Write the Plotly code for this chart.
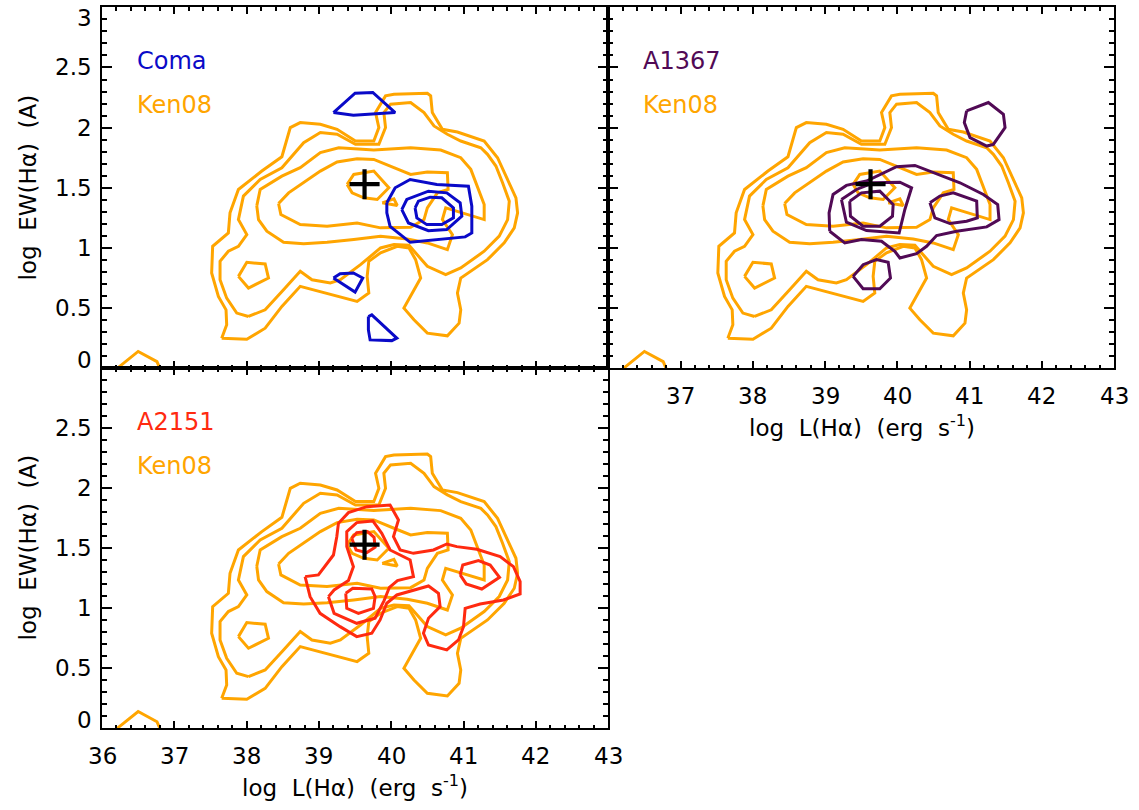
import plotly.graph_objects as go

# ---------------- data (log L(Halpha), log EW(Halpha)) ----------------
# Ken08 reference contours (identical in every panel)
ken_l1_x = [37.655, 38.002, 38.256, 38.487, 38.741, 39.25, 39.527, 39.689, 39.666, 39.689, 39.851, 40.082,
            40.244, 40.336, 40.406, 40.174, 40.313, 40.498, 40.775, 40.937, 40.96, 40.914, 40.96, 41.33,
            41.561, 41.7, 41.746, 41.723, 41.608, 41.469, 41.284, 40.914, 40.706, 40.567, 40.544, 40.498,
            40.036, 39.92, 39.782, 39.828, 39.758, 39.504, 39.25, 39.019, 38.741, 38.603, 38.487, 38.21,
            37.886, 37.77, 37.747, 37.53, 37.516, 37.609, 37.715, 37.724]
ken_l1_y = [0.25, 0.242, 0.333, 0.514, 0.681, 0.597, 0.556, 0.625, 0.764, 0.889, 0.959, 1.014,
            1.0, 0.903, 0.75, 0.5, 0.403, 0.292, 0.27, 0.375, 0.486, 0.625, 0.75, 0.903,
            1.042, 1.167, 1.292, 1.417, 1.569, 1.75, 1.889, 1.964, 1.986, 2.125, 2.264, 2.286,
            2.278, 2.264, 2.125, 2.0, 1.889, 1.889, 1.986, 2.028, 2.042, 2.0, 1.758, 1.639,
            1.486, 1.292, 1.125, 1.014, 0.792, 0.597, 0.486, 0.361]

ken_l2_x = [38.025, 38.256, 38.51, 38.741, 38.903, 39.157, 39.296, 39.574, 39.851, 40.036, 40.244, 40.359,
            40.498, 40.752, 40.96, 41.284, 41.492, 41.608, 41.631, 41.538, 41.446, 41.33, 41.238, 40.96,
            40.775, 40.59, 40.452, 40.267, 39.99, 39.897, 39.92, 39.828, 39.504, 39.25, 39.019, 38.788,
            38.487, 38.187, 37.955, 37.886, 38.002, 37.886, 37.747, 37.632, 37.632, 37.724, 37.863]
ken_l2_y = [0.431, 0.486, 0.653, 0.806, 0.736, 0.709, 0.736, 0.861, 1.0, 1.028, 1.022, 0.945,
            0.848, 0.778, 0.834, 0.973, 1.098, 1.236, 1.389, 1.542, 1.681, 1.778, 1.833, 1.889,
            1.945, 2.014, 2.125, 2.209, 2.195, 2.125, 2.0, 1.861, 1.861, 1.945, 1.959, 1.875,
            1.667, 1.569, 1.431, 1.236, 1.111, 1.014, 0.973, 0.889, 0.736, 0.583, 0.459]

ken_l3_x = [38.14, 38.187, 38.487, 38.741, 39.019, 39.273, 39.758, 40.267, 40.683, 40.96, 41.099, 41.19,
            41.284, 41.284, 40.96, 40.752, 40.706, 40.845, 40.775, 40.498, 40.22, 39.851, 39.481, 39.112,
            38.788, 38.51, 38.279, 38.164]
ken_l3_y = [1.35, 1.486, 1.597, 1.667, 1.792, 1.833, 1.814, 1.833, 1.814, 1.75, 1.653, 1.514,
            1.361, 1.236, 1.297, 1.333, 1.236, 1.111, 0.986, 1.042, 1.075, 1.098, 1.07, 1.047,
            1.036, 1.047, 1.139, 1.236]

ken_isl_x = [37.886, 38.002, 38.256, 38.302, 38.025]
ken_isl_y = [0.764, 0.881, 0.867, 0.75, 0.667]

ken_l4_x = [38.441, 38.473, 38.741, 39.112, 39.527, 39.851, 40.267, 40.452, 40.498, 40.637, 40.785, 40.775,
            40.498, 40.267, 40.036, 39.758, 39.527, 39.25, 39.019, 38.788, 38.58]
ken_l4_y = [1.369, 1.278, 1.194, 1.181, 1.208, 1.167, 1.172, 1.236, 1.333, 1.458, 1.486, 1.625,
            1.631, 1.611, 1.667, 1.736, 1.742, 1.714, 1.639, 1.542, 1.458]

ken_l5_x = [39.389, 39.481, 39.758, 39.966, 39.805, 39.62, 39.458]
ken_l5_y = [1.528, 1.611, 1.639, 1.5, 1.403, 1.417, 1.458]

ken_tri_x = [39.874, 40.036, 40.082]
ken_tri_y = [1.375, 1.408, 1.353]

ken_edge_x = [36.21, 36.5, 36.76, 36.8]
ken_edge_y = [0.0, 0.14, 0.055, 0.0]

# Coma contours
coma_a_x = [39.2, 39.499, 39.744, 40.053, 39.476]
coma_a_y = [2.125, 2.286, 2.292, 2.125, 2.103]
coma_b_x = [39.938, 40.053, 40.26, 40.629, 41.066, 41.113, 41.113, 41.021, 40.26, 39.983, 39.938]
coma_b_y = [1.375, 1.5, 1.569, 1.528, 1.513, 1.347, 1.125, 1.092, 1.047, 1.18, 1.292]
coma_c_x = [40.145, 40.214, 40.513, 40.767, 40.952, 40.975, 40.767, 40.513, 40.237]
coma_c_y = [1.319, 1.403, 1.472, 1.458, 1.375, 1.264, 1.153, 1.144, 1.208]
coma_d_x = [40.329, 40.375, 40.537, 40.698, 40.859, 40.859, 40.698, 40.491, 40.353]
coma_d_y = [1.333, 1.389, 1.422, 1.417, 1.333, 1.25, 1.194, 1.194, 1.25]
coma_e_x = [39.2, 39.292, 39.476, 39.605, 39.499]
coma_e_y = [0.75, 0.785, 0.792, 0.75, 0.633]
coma_f_x = [39.683, 39.73, 40.076, 40.007, 39.707, 39.683]
coma_f_y = [0.43, 0.444, 0.25, 0.23, 0.236, 0.319]

# A1367 contours
a1367_a_x = [40.96, 41.261, 41.469, 41.492, 41.33, 41.238, 41.007, 40.928]
a1367_a_y = [2.139, 2.209, 2.111, 2.0, 1.861, 1.847, 1.917, 2.042]
a1367_b_x = [39.065, 39.056, 39.111, 39.296, 39.574, 39.828, 39.99, 40.244, 40.498, 40.868, 41.192, 41.39,
             41.409, 41.238, 40.822, 40.544, 40.406, 40.267, 40.036, 39.966, 39.782, 39.504, 39.273]
a1367_b_y = [1.139, 1.292, 1.445, 1.52, 1.556, 1.625, 1.675, 1.686, 1.625, 1.542, 1.445, 1.361,
             1.236, 1.175, 1.139, 1.103, 1.014, 0.953, 0.917, 0.972, 1.056, 1.07, 1.042]
a1367_c_x = [39.227, 39.435, 39.666, 40.036, 40.198, 40.105, 40.026, 39.574, 39.296]
a1367_c_y = [1.403, 1.486, 1.542, 1.547, 1.5, 1.32, 1.125, 1.145, 1.214]
a1367_d_x = [39.342, 39.504, 39.758, 39.943, 39.934, 39.758, 39.527, 39.352]
a1367_d_y = [1.389, 1.458, 1.472, 1.361, 1.264, 1.181, 1.181, 1.264]
a1367_e_x = [40.452, 40.59, 40.775, 41.099, 41.108, 40.96, 40.729, 40.521]
a1367_e_y = [1.375, 1.431, 1.458, 1.389, 1.25, 1.222, 1.203, 1.25]
a1367_f_x = [39.389, 39.527, 39.712, 39.874, 39.906, 39.758, 39.527]
a1367_f_y = [0.764, 0.861, 0.903, 0.881, 0.75, 0.661, 0.661]

# A2151 contours
a2151_a_x = [38.808, 38.877, 39.015, 39.292, 39.522, 39.73, 39.845, 39.937, 40.076, 40.306, 40.514, 40.652,
             40.675, 40.514, 40.444, 40.514, 40.767, 40.929, 40.998, 41.021, 41.228, 41.551, 41.781, 41.781,
             41.689, 41.505, 41.182, 40.906, 40.767, 40.583, 40.306, 40.122, 40.03, 40.099, 39.983, 39.661,
             39.407, 39.269, 39.246, 39.2, 38.992]
a2151_a_y = [1.264, 1.097, 0.958, 0.847, 0.764, 0.792, 0.903, 1.042, 1.111, 1.153, 1.186, 1.125,
             1.014, 0.917, 0.792, 0.694, 0.653, 0.736, 0.847, 1.0, 1.036, 1.069, 1.119, 1.222,
             1.347, 1.431, 1.492, 1.514, 1.536, 1.486, 1.458, 1.486, 1.597, 1.736, 1.861, 1.847,
             1.797, 1.708, 1.597, 1.444, 1.278]
a2151_b_x = [39.131, 39.209, 39.407, 39.476, 39.384, 39.384, 39.522, 39.744, 39.868, 39.983, 40.26, 40.306,
             40.085, 39.974, 39.9, 39.776, 39.522, 39.209]
a2151_b_y = [1.097, 1.153, 1.231, 1.347, 1.514, 1.639, 1.714, 1.728, 1.625, 1.486, 1.403, 1.264,
             1.231, 1.175, 1.064, 0.917, 0.875, 0.958]
a2151_c_x = [39.453, 39.522, 39.67, 39.762, 39.776, 39.661, 39.513]
a2151_c_y = [1.583, 1.631, 1.639, 1.592, 1.508, 1.464, 1.486]
a2151_d_x = [39.37, 39.467, 39.73, 39.776, 39.753, 39.545, 39.384]
a2151_d_y = [1.125, 1.167, 1.161, 1.097, 1.0, 0.958, 1.0]
a2151_e_x = [40.952, 40.988, 41.205, 41.367, 41.496, 41.251, 41.035]
a2151_e_y = [1.278, 1.361, 1.397, 1.361, 1.258, 1.161, 1.203]

peak_x = [39.63]
peak_y = [1.53]

x_ticks = [36, 37, 38, 39, 40, 41, 42, 43]
x_ticklabels = ["36", "37", "38", "39", "40", "41", "42", "43"]
y_ticks = [0, 0.5, 1, 1.5, 2, 2.5, 3]
y_ticklabels = ["0", "0.5", "1", "1.5", "2", "2.5", "3"]

# ---------------- styling ----------------
ORANGE = "#FFA500"
BLUE = "#0A0AC8"
PURPLE = "#510A55"
RED = "#FF2A10"
FONT = "DejaVu Sans"
SP = "\u00a0\u00a0"

W, H = 1139, 810
col_l = [102 / W, 608.3 / W]
col_r = [608.3 / W, 1114 / W]
row_t = [(H - 368.3) / H, (H - 7.3) / H]
row_b = [(H - 728.3) / H, (H - 368.3) / H]

fig = go.Figure()


def loop(xs, ys, closed=True):
    if closed:
        return list(xs) + [xs[0]], list(ys) + [ys[0]]
    return list(xs), list(ys)


ken_sets = [(ken_l1_x, ken_l1_y, True), (ken_l2_x, ken_l2_y, True), (ken_l3_x, ken_l3_y, True),
            (ken_isl_x, ken_isl_y, True), (ken_l4_x, ken_l4_y, True), (ken_l5_x, ken_l5_y, True),
            (ken_tri_x, ken_tri_y, True), (ken_edge_x, ken_edge_y, False)]

panels = [
    ("x", "y", BLUE, [(coma_a_x, coma_a_y), (coma_b_x, coma_b_y), (coma_c_x, coma_c_y),
                      (coma_d_x, coma_d_y), (coma_e_x, coma_e_y), (coma_f_x, coma_f_y)]),
    ("x2", "y2", PURPLE, [(a1367_a_x, a1367_a_y), (a1367_b_x, a1367_b_y), (a1367_c_x, a1367_c_y),
                          (a1367_d_x, a1367_d_y), (a1367_e_x, a1367_e_y), (a1367_f_x, a1367_f_y)]),
    ("x3", "y3", RED, [(a2151_a_x, a2151_a_y), (a2151_b_x, a2151_b_y), (a2151_c_x, a2151_c_y),
                       (a2151_d_x, a2151_d_y), (a2151_e_x, a2151_e_y)]),
]

for xa, ya, col, sets in panels:
    for xs, ys, cl in ken_sets:
        lx, ly = loop(xs, ys, cl)
        fig.add_trace(go.Scatter(x=lx, y=ly, mode="lines", xaxis=xa, yaxis=ya,
                                 line=dict(color=ORANGE, width=3), hoverinfo="skip", showlegend=False))
    for xs, ys in sets:
        lx, ly = loop(xs, ys)
        fig.add_trace(go.Scatter(x=lx, y=ly, mode="lines", xaxis=xa, yaxis=ya,
                                 line=dict(color=col, width=3), hoverinfo="skip", showlegend=False))
    fig.add_trace(go.Scatter(x=peak_x, y=peak_y, mode="markers", xaxis=xa, yaxis=ya,
                             marker=dict(symbol="cross-thin", size=21.5, line=dict(color="black", width=4.2)),
                             hoverinfo="skip", showlegend=False))


def xaxis(domain, anchor):
    return dict(domain=domain, anchor=anchor, range=[36, 43], showgrid=False, zeroline=False,
                showline=True, linecolor="black", linewidth=2, mirror="allticks",
                ticks="inside", ticklen=7, tickwidth=2, tickcolor="black",
                tickvals=x_ticks, showticklabels=False,
                minor=dict(ticks="inside", ticklen=3.5, tickwidth=1.5, tickcolor="black", dtick=0.2, tick0=36))


def yaxis(domain, anchor):
    return dict(domain=domain, anchor=anchor, range=[0, 3], showgrid=False, zeroline=False,
                showline=True, linecolor="black", linewidth=2, mirror="allticks",
                ticks="inside", ticklen=10, tickwidth=2, tickcolor="black",
                tickvals=y_ticks, showticklabels=False,
                minor=dict(ticks="inside", ticklen=5, tickwidth=1.5, tickcolor="black", dtick=0.1, tick0=0))


fig.update_layout(
    width=W, height=H, margin=dict(l=0, r=0, t=0, b=0),
    paper_bgcolor="white", plot_bgcolor="white",
    xaxis=xaxis(col_l, "y"), yaxis=yaxis(row_t, "x"),
    xaxis2=xaxis(col_r, "y2"), yaxis2=yaxis(row_t, "x2"),
    xaxis3=xaxis(col_l, "y3"), yaxis3=yaxis(row_b, "x3"),
    font=dict(family=FONT, size=23, color="black"),
)

TF = dict(family=FONT, size=23, color="black")
ann = []
# y tick labels (end labels are nudged inside the panel, as in the original)
for yv, lab in zip(y_ticks, y_ticklabels):
    if yv == 3:
        ann.append(dict(text=lab, xref="paper", yref="paper", x=94 / W, y=(H - 18) / H,
                        xanchor="right", yanchor="middle", font=TF))
    elif yv == 0:
        ann.append(dict(text=lab, xref="paper", yref="paper", x=94 / W, y=(H - 360) / H,
                        xanchor="right", yanchor="middle", font=TF))
        ann.append(dict(text=lab, xref="paper", yref="paper", x=94 / W, y=(H - 720) / H,
                        xanchor="right", yanchor="middle", font=TF))
    else:
        for yr in ("y", "y3"):
            ann.append(dict(text=lab, xref="paper", yref=yr, x=94 / W, y=yv,
                            xanchor="right", yanchor="middle", font=TF))
# x tick labels
for xv, lab in zip(x_ticks, x_ticklabels):
    ann.append(dict(text=lab, xref="x3", yref="paper", x=xv, y=(H - 756) / H,
                    xanchor="center", yanchor="middle", font=TF))
    if xv != 36:
        ann.append(dict(text=lab, xref="x2", yref="paper", x=xv, y=(H - 396) / H,
                        xanchor="center", yanchor="middle", font=TF))
# axis titles
ytitle = "log" + SP + "EW(H\u03b1)" + SP + "(A)"
xtitle = "log" + SP + "L(H\u03b1)" + SP + "(erg" + SP + "s<sup>-1</sup>)"
for yc in (188, 548):
    ann.append(dict(text=ytitle, xref="paper", yref="paper", x=27.5 / W, y=(H - yc) / H, textangle=-90,
                    xanchor="center", yanchor="middle", font=TF))
ann.append(dict(text=xtitle, xref="paper", yref="paper", x=355 / W, y=(H - 786) / H,
                xanchor="center", yanchor="middle", font=TF))
ann.append(dict(text=xtitle, xref="paper", yref="paper", x=861.5 / W, y=(H - 426) / H,
                xanchor="center", yanchor="middle", font=TF))
# panel labels
for xr, yr, name, col in [("x", "y", "Coma", BLUE), ("x2", "y2", "A1367", PURPLE), ("x3", "y3", "A2151", RED)]:
    ann.append(dict(text=name, xref=xr, yref=yr, x=36.45, y=2.555, xanchor="left", yanchor="middle",
                    font=dict(family=FONT, size=24, color=col)))
    ann.append(dict(text="Ken08", xref=xr, yref=yr, x=36.45, y=2.186, xanchor="left", yanchor="middle",
                    font=dict(family=FONT, size=24, color=ORANGE)))
for a in ann:
    a["showarrow"] = False
fig.update_layout(annotations=ann)

fig.write_html("out.html")
